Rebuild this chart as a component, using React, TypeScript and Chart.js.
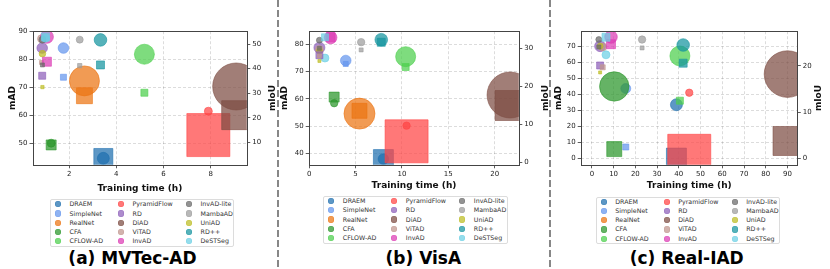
import React, { useEffect, useRef } from 'react';
import { Chart, registerables } from 'chart.js';

Chart.register(...registerables);
Chart.defaults.font.family = '"DejaVu Sans", sans-serif';

// ---------- data ----------
const methods = [
  'DRAEM', 'SimpleNet', 'RealNet', 'CFA', 'CFLOW-AD',
  'PyramidFlow', 'RD', 'DiAD', 'ViTAD', 'InvAD',
  'InvAD-lite', 'MambaAD', 'UniAD', 'RD++', 'DeSTSeg',
];

const xTitle = 'Training time (h)';
const leftTitle = 'mAD';
const rightTitle = 'mIoU';

// (a) MVTec-AD
const mvtecTime = [3.45, 1.76, 2.65, 1.24, 5.19, 7.9, 0.86, 9.08, 0.83, 1.06, 0.87, 2.45, 0.87, 3.33, 1.0];
const mvtecMAD = [44.7, 84.0, 72.3, 50.1, 81.8, 61.5, 84.0, 70.3, 87.3, 88.0, 87.0, 87.0, 82.0, 86.9, 87.5];
const mvtecMIoU = [3.7, 36.5, 29.0, 9.0, 30.2, 13.0, 37.1, 21.1, 42.5, 42.8, 41.5, 41.2, 32.5, 41.5, 52.9];
const mvtecCircleSize = [12, 10.6, 30, 8, 20, 8, 10.6, 47, 8, 13, 7, 7, 6.6, 12.6, 8];
const mvtecSquareSize = [19, 6, 16, 10, 7, 43, 7, 29, 4, 9, 4, 4.3, 3.3, 8, 8];
const mvtecXTicks = [2, 4, 6, 8];
const mvtecYTicks = [50, 60, 70, 80, 90];
const mvtecY1Ticks = [10, 20, 30, 40, 50];

// (b) VisA
const visaTime = [8.0, 3.94, 5.42, 2.69, 10.4, 10.5, 1.1, 21.66, 1.1, 2.31, 1.1, 5.6, 1.1, 7.77, 1.7];
const visaMAD = [38.0, 74.0, 54.6, 58.4, 75.4, 50.2, 78.7, 61.4, 78.0, 82.4, 81.4, 80.7, 77.5, 81.6, 74.9];
const visaMIoU = [0.8, 25.9, 13.6, 17.2, 25.1, 5.6, 28.2, 15.0, 28.0, 32.9, 30.0, 29.6, 26.7, 31.6, 32.9];
const visaCircleSize = [10.6, 10.6, 31, 7.4, 20, 7.4, 11, 46, 8, 12.6, 6, 7.4, 6, 12.6, 8];
const visaSquareSize = [20, 5, 15, 10, 7, 43, 7, 30, 4, 9, 4, 4, 3, 8, 7];
const visaXTicks = [0, 5, 10, 15, 20];
const visaYTicks = [40, 50, 60, 70, 80];
const visaY1Ticks = [0, 10, 20, 30];

// (c) Real-IAD (RealNet not reported)
const realTime = [38.9, 15.6, null, 10.3, 40.5, 44.8, 3.8, 90.0, 5.0, 8.8, 3.2, 23.1, 3.8, 42.0, 6.5];
const realMAD = [33.5, 43.6, null, 44.9, 63.9, 41.0, 70.0, 52.6, 69.5, 75.7, 74.1, 74.1, 70.0, 70.7, 64.6];
const realMIoU = [0.1, 2.5, null, 2.05, 12.5, 0.6, 20.1, 3.8, 19.7, 24.7, 24.1, 23.9, 18.6, 20.6, 26.2];
const realCircleSize = [12, 10, 0, 29.4, 20, 7.4, 11, 46.6, 8, 12.6, 6, 7.4, 6, 12.6, 8];
const realSquareSize = [20, 6, 0, 15, 7, 43, 7, 29, 5, 9, 4, 4, 3, 8, 8];
const realXTicks = [0, 10, 20, 30, 40, 50, 60, 70, 80, 90];
const realYTicks = [0, 10, 20, 30, 40, 50, 60, 70];
const realY1Ticks = [0, 10, 20];

// ---------- styles ----------
const palette = [
  '#1f6fae', '#6495ed', '#ec7412', '#2a962a', '#4ccf4c',
  '#ff4444', '#8e5fba', '#7d4c42', '#c0968e', '#dc3cb4',
  '#6a6a6a', '#9c9c9c', '#bcbd22', '#15949f', '#6cd0e4',
];
const ALPHA = 0.72;

function rgba(hex: string, a: number) {
  const n = parseInt(hex.slice(1), 16);
  return `rgba(${(n >> 16) & 255},${(n >> 8) & 255},${n & 255},${a})`;
}

type Panel = {
  id: string;
  canvasLeft: number; width: number; height: number;
  area: { left: number; right: number; top: number; bottom: number };
  time: (number | null)[]; mad: (number | null)[]; miou: (number | null)[];
  circleSize: number[]; squareSize: number[];
  xRange: [number, number]; yRange: [number, number]; y1Range: [number, number];
  xTicks: number[]; yTicks: number[]; y1Ticks: number[];
  leftTitleX: number; rightTitleX: number; xTitleY: number;
  legend: { left: number; top: number; width: number; height: number };
  caption: string; captionX: number;
};

const panels: Panel[] = [
  {
    id: 'a', canvasLeft: 0, width: 278, height: 196,
    area: { left: 33, right: 252, top: 8.7, bottom: 172 },
    time: mvtecTime, mad: mvtecMAD, miou: mvtecMIoU,
    circleSize: mvtecCircleSize, squareSize: mvtecSquareSize,
    xRange: [0.47, 9.53], yRange: [42.4, 90], y1Range: [0.93, 55.2],
    xTicks: mvtecXTicks, yTicks: mvtecYTicks, y1Ticks: mvtecY1Ticks,
    leftTitleX: 13, rightTitleX: 273, xTitleY: 189,
    legend: { left: 50, top: 199.3, width: 184, height: 47.5 },
    caption: '(a) MVTec-AD', captionX: 132.5,
  },
  {
    id: 'b', canvasLeft: 278, width: 272, height: 196,
    area: { left: 28, right: 246, top: 5.7, bottom: 168.3 },
    time: visaTime, mad: visaMAD, miou: visaMIoU,
    circleSize: visaCircleSize, squareSize: visaSquareSize,
    xRange: [0, 22.6], yRange: [35.9, 84.7], y1Range: [-0.56, 34.5],
    xTicks: visaXTicks, yTicks: visaYTicks, y1Ticks: visaY1Ticks,
    leftTitleX: 7, rightTitleX: 267.5, xTitleY: 186,
    legend: { left: 323.3, top: 196, width: 184.4, height: 48.3 },
    caption: '(b) VisA', captionX: 423.3,
  },
  {
    id: 'c', canvasLeft: 550, width: 280, height: 196,
    area: { left: 28.3, right: 247.3, top: 5.7, bottom: 169.3 },
    time: realTime, mad: realMAD, miou: realMIoU,
    circleSize: realCircleSize, squareSize: realSquareSize,
    xRange: [-4.9, 94.5], yRange: [-3.9, 79.3], y1Range: [-1.34, 27.5],
    xTicks: realXTicks, yTicks: realYTicks, y1Ticks: realY1Ticks,
    leftTitleX: 8.8, rightTitleX: 268.3, xTitleY: 186,
    legend: { left: 595.7, top: 196.7, width: 184.3, height: 47.6 },
    caption: '(c) Real-IAD', captionX: 686.7,
  },
];

function makeDeco(p: Panel) {
  return {
    id: 'deco_' + p.id,
    afterDraw(chart: any) {
      const { ctx, chartArea: a } = chart;
      ctx.save();
      ctx.strokeStyle = '#444';
      ctx.lineWidth = 1;
      const l = Math.round(a.left) + 0.5, t = Math.round(a.top) + 0.5;
      const r = Math.round(a.right) + 0.5, b = Math.round(a.bottom) + 0.5;
      ctx.strokeRect(l, t, r - l, b - t);
      ctx.fillStyle = '#111';
      ctx.font = 'bold 9px "DejaVu Sans"';
      ctx.textAlign = 'center';
      ctx.textBaseline = 'middle';
      const cy = (a.top + a.bottom) / 2;
      const vt: [number, string][] = [[p.leftTitleX, leftTitle], [p.rightTitleX, rightTitle]];
      vt.forEach(([x, txt]) => {
        ctx.save();
        ctx.translate(x, cy);
        ctx.rotate(-Math.PI / 2);
        ctx.fillText(txt, 0, 0);
        ctx.restore();
      });
      ctx.fillText(xTitle, (a.left + a.right) / 2, p.xTitleY);
      ctx.restore();
    },
  };
}

function PanelChart({ p }: { p: Panel }) {
  const ref = useRef<HTMLCanvasElement>(null);
  useEffect(() => {
    if (!ref.current) return;
    const circles: any[] = [], circleColors: string[] = [];
    const squares: any[] = [], squareColors: string[] = [];
    const circleBorders: string[] = [], squareBorders: string[] = [];
    p.time.forEach((t, i) => {
      if (t == null) return;
      circles.push({ x: t, y: p.mad[i], r: p.circleSize[i] / 2 });
      circleColors.push(rgba(palette[i], ALPHA));
      circleBorders.push(rgba(palette[i], ALPHA));
      squares.push({ x: t, y: p.miou[i], r: p.squareSize[i] / Math.SQRT2 });
      squareColors.push(rgba(palette[i], ALPHA));
      squareBorders.push(rgba(palette[i], ALPHA));
    });
    const tickFont = { size: 7, family: '"DejaVu Sans"' };
    const gridCommon = { tickLength: 3.5, tickColor: '#333', tickWidth: 0.8 };
    const setTicks = (vals: number[]) => (s: any) => { s.ticks = vals.map((v) => ({ value: v })); };
    const chart = new Chart(ref.current, {
      type: 'bubble',
      data: {
        datasets: [
          {
            label: 'mIoU', data: squares, yAxisID: 'y1', pointStyle: 'rect',
            backgroundColor: squareColors, borderColor: squareBorders, borderWidth: 0.8, clip: 0,
          } as any,
          {
            label: 'mAD', data: circles, yAxisID: 'y', pointStyle: 'circle',
            backgroundColor: circleColors, borderColor: circleBorders, borderWidth: 0.8, clip: 0,
          } as any,
        ],
      },
      options: {
        animation: false,
        responsive: false,
        events: [],
        layout: { padding: { top: p.area.top, left: 0, right: 0, bottom: 0 } },
        plugins: { legend: { display: false }, tooltip: { enabled: false } },
        scales: {
          x: {
            type: 'linear', position: 'bottom', min: p.xRange[0], max: p.xRange[1],
            afterBuildTicks: setTicks(p.xTicks),
            afterFit: (s: any) => { s.height = p.height - p.area.bottom; },
            grid: { ...gridCommon, color: 'rgba(0,0,0,0.2)', lineWidth: 0.7 },
            border: { display: false, dash: [3, 2] },
            ticks: { font: tickFont, color: '#222', padding: 1.5, maxRotation: 0, autoSkip: false },
          },
          y: {
            type: 'linear', position: 'left', min: p.yRange[0], max: p.yRange[1],
            afterBuildTicks: setTicks(p.yTicks),
            afterFit: (s: any) => { s.width = p.area.left; },
            grid: { ...gridCommon, color: 'rgba(0,0,0,0.2)', lineWidth: 0.7 },
            border: { display: false, dash: [3, 2] },
            ticks: { font: tickFont, color: '#222', padding: 2, autoSkip: false },
          },
          y1: {
            type: 'linear', position: 'right', min: p.y1Range[0], max: p.y1Range[1],
            afterBuildTicks: setTicks(p.y1Ticks),
            afterFit: (s: any) => { s.width = p.width - p.area.right; },
            grid: { ...gridCommon, drawOnChartArea: false },
            border: { display: false },
            ticks: { font: tickFont, color: '#222', padding: 2, autoSkip: false },
          },
        },
      } as any,
      plugins: [makeDeco(p)],
    });
    return () => chart.destroy();
  }, [p]);
  return (
    <canvas
      ref={ref}
      width={p.width}
      height={p.height}
      style={{ position: 'absolute', left: p.canvasLeft, top: 0, width: p.width, height: p.height }}
    />
  );
}

const legendCols = [8, 71, 139];
const legendRowStart = 5;
const legendRowStep = 9.25;

function Legend({ p }: { p: Panel }) {
  const L = p.legend;
  return (
    <div>
      <div
        style={{
          position: 'absolute', left: L.left, top: L.top, width: L.width, height: L.height,
          border: '1px solid #dcdcdc', borderRadius: 2, boxSizing: 'border-box', background: 'rgba(255,255,255,0.8)',
        }}
      />
      {methods.map((m, i) => {
        const col = Math.floor(i / 5), row = i % 5;
        const cx = L.left + legendCols[col];
        const cy = L.top + legendRowStart + row * legendRowStep;
        return (
          <React.Fragment key={m}>
            <div
              style={{
                position: 'absolute', left: cx - 3.2, top: cy - 3.2, width: 6.4, height: 6.4, borderRadius: '50%',
                background: rgba(palette[i], ALPHA), boxShadow: `inset 0 0 0 0.6px ${rgba(palette[i], 0.5)}`,
              }}
            />
            <div
              style={{
                position: 'absolute', left: cx + 11.5, top: cy - 4, height: 8, lineHeight: '8px',
                fontFamily: '"DejaVu Sans", sans-serif', fontSize: 6.3, color: '#333', whiteSpace: 'nowrap',
              }}
            >
              {m}
            </div>
          </React.Fragment>
        );
      })}
      <div
        style={{
          position: 'absolute', left: p.captionX, top: 258, transform: 'translate(-50%, -50%)',
          fontFamily: '"DejaVu Sans", sans-serif', fontSize: 17, fontWeight: 'bold', color: '#000',
          whiteSpace: 'nowrap', lineHeight: '22px',
        }}
      >
        {p.caption}
      </div>
    </div>
  );
}

export default function App() {
  return (
    <div style={{ position: 'fixed', left: 0, top: 0, width: 830, height: 269, background: '#fff', overflow: 'hidden' }}>
      {panels.map((p) => (
        <PanelChart key={p.id} p={p} />
      ))}
      {panels.map((p) => (
        <Legend key={'l' + p.id} p={p} />
      ))}
      <svg width={830} height={269} style={{ position: 'absolute', left: 0, top: 0, pointerEvents: 'none' }}>
        <line x1={278} y1={0} x2={278} y2={269} stroke="#6a6a6a" strokeWidth={1.6} strokeDasharray="7 3" />
        <line x1={550} y1={0} x2={550} y2={269} stroke="#6a6a6a" strokeWidth={1.6} strokeDasharray="7 3" />
      </svg>
    </div>
  );
}
